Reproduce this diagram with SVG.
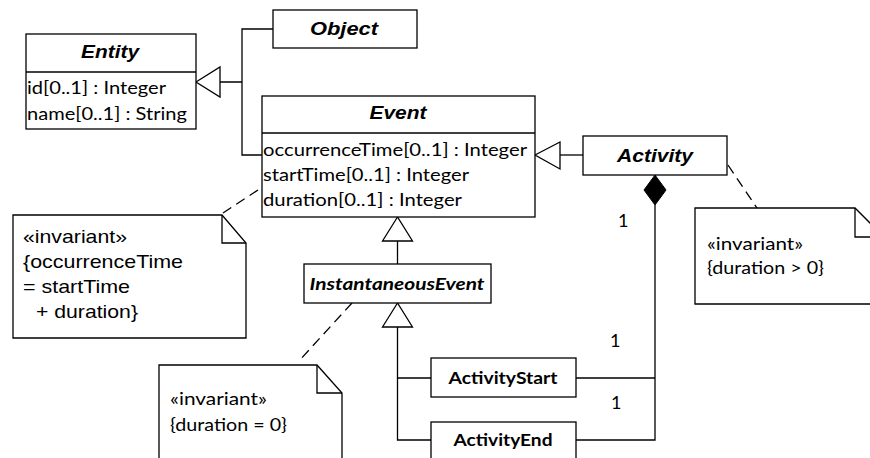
<svg xmlns="http://www.w3.org/2000/svg" width="870" height="458" viewBox="0 0 870 458">
<style>
.box{fill:#fff;stroke:#000;stroke-width:1.3}
.ln{fill:none;stroke:#000;stroke-width:1.3}
.dash{fill:none;stroke:#000;stroke-width:1.3;stroke-dasharray:10 6}
.tri{fill:#fff;stroke:#000;stroke-width:1.3}
.dia{fill:#000;stroke:#000;stroke-width:1}
.title{font-family:"Liberation Sans",Arial,sans-serif;font-size:19px;font-weight:bold;font-style:italic;fill:#000}
.ctitle{font-family:Lato,"Open Sans",sans-serif;font-size:17px;font-weight:bold;fill:#000}
.attr{font-family:Lato,"Open Sans",sans-serif;font-size:17.5px;fill:#000}
.mult{font-family:Lato,"Open Sans",sans-serif;font-size:18px;fill:#000}
.note{font-family:"Liberation Sans",Arial,sans-serif;font-size:19px;fill:#000}
</style>
<rect width="870" height="458" fill="#fff"/>
<g id="connectors">
  <path class="ln" d="M220,82 H242 M273,29 H242 V155 H262"/>
  <polygon class="tri" points="196,82 220,67 220,97"/>
  <path class="ln" d="M560,155 H583"/>
  <polygon class="tri" points="535,155 560,142 560,169"/>
  <path class="ln" d="M397.5,241 V264"/>
  <polygon class="tri" points="397.5,217 382.5,241 412.5,241"/>
  <path class="ln" d="M397.5,327 V440 H431 M397.5,378 H431"/>
  <polygon class="tri" points="397.5,303 382.5,327 412.5,327"/>
  <path class="ln" d="M655,205 V440 H576 M576,378 H655"/>
  <polygon class="dia" points="655,175 666,190 655,205 644,190"/>
  <path class="dash" d="M258,190 L223,213"/>
  <path class="dash" d="M352,303 L298,362"/>
  <path class="dash" d="M728,165 L757,208"/>
  <text class="mult" x="618" y="227">1</text>
  <text class="mult" x="610" y="347">1</text>
  <text class="mult" x="611" y="409">1</text>
</g>
<g id="Entity">
  <rect class="box" x="26" y="34" width="170" height="95"/>
  <path class="ln" d="M26,72 H196"/>
  <text class="title" x="110" y="58" text-anchor="middle" textLength="58" lengthAdjust="spacingAndGlyphs">Entity</text>
  <text class="attr" x="27" y="94" textLength="139" lengthAdjust="spacingAndGlyphs">id[0..1] : Integer</text>
  <text class="attr" x="27" y="120" textLength="160" lengthAdjust="spacingAndGlyphs">name[0..1] : String</text>
</g>
<g id="Object">
  <rect class="box" x="273" y="10" width="144" height="38"/>
  <text class="title" x="344" y="35" text-anchor="middle" textLength="68" lengthAdjust="spacingAndGlyphs">Object</text>
</g>
<g id="Event">
  <rect class="box" x="262" y="96" width="273" height="121"/>
  <path class="ln" d="M262,133 H535"/>
  <text class="title" x="398" y="119" text-anchor="middle" textLength="57" lengthAdjust="spacingAndGlyphs">Event</text>
  <text class="attr" x="263" y="156" textLength="264" lengthAdjust="spacingAndGlyphs">occurrenceTime[0..1] : Integer</text>
  <text class="attr" x="263" y="181" textLength="206" lengthAdjust="spacingAndGlyphs">startTime[0..1] : Integer</text>
  <text class="attr" x="263" y="206" textLength="199" lengthAdjust="spacingAndGlyphs">duration[0..1] : Integer</text>
</g>
<g id="Activity">
  <rect class="box" x="583" y="136" width="144" height="39"/>
  <text class="title" x="655" y="162" text-anchor="middle" textLength="76" lengthAdjust="spacingAndGlyphs">Activity</text>
</g>
<g id="InstantaneousEvent">
  <rect class="box" x="304" y="264" width="187" height="39"/>
  <text class="ctitle" x="397" y="290" text-anchor="middle" font-style="italic" textLength="175" lengthAdjust="spacingAndGlyphs">InstantaneousEvent</text>
</g>
<g id="ActivityStart">
  <rect class="box" x="431" y="358" width="145" height="39"/>
  <text class="ctitle" x="503" y="384" text-anchor="middle" textLength="109" lengthAdjust="spacingAndGlyphs">ActivityStart</text>
</g>
<g id="ActivityEnd">
  <rect class="box" x="431" y="422" width="145" height="45"/>
  <text class="ctitle" x="503" y="446" text-anchor="middle" textLength="99" lengthAdjust="spacingAndGlyphs">ActivityEnd</text>
</g>
<g id="note-event">
  <path class="box" d="M13,215 H222 L246,243 V338 H13 Z"/>
  <path class="ln" d="M222,215 V243 H246"/>
  <text class="note" x="23" y="243" textLength="104" lengthAdjust="spacingAndGlyphs">«invariant»</text>
  <text class="note" x="23" y="268" textLength="160" lengthAdjust="spacingAndGlyphs">{occurrenceTime</text>
  <text class="note" x="23" y="293" textLength="107" lengthAdjust="spacingAndGlyphs">= startTime</text>
  <text class="note" x="36" y="318" textLength="102" lengthAdjust="spacingAndGlyphs">+ duration}</text>
</g>
<g id="note-instantaneous">
  <path class="box" d="M159,365 H317 L342,393 V470 H159 Z"/>
  <path class="ln" d="M317,365 V393 H342"/>
  <text class="attr" x="170" y="405" textLength="97" lengthAdjust="spacingAndGlyphs">«invariant»</text>
  <text class="attr" x="170" y="431" textLength="117" lengthAdjust="spacingAndGlyphs">{duration = 0}</text>
</g>
<g id="note-activity">
  <path class="box" d="M695,208 H855 L884,237 V304 H695 Z"/>
  <path class="ln" d="M855,208 V237 H884"/>
  <text class="attr" x="707" y="250" textLength="96" lengthAdjust="spacingAndGlyphs">«invariant»</text>
  <text class="attr" x="707" y="274" textLength="117" lengthAdjust="spacingAndGlyphs">{duration &gt; 0}</text>
</g>
</svg>
